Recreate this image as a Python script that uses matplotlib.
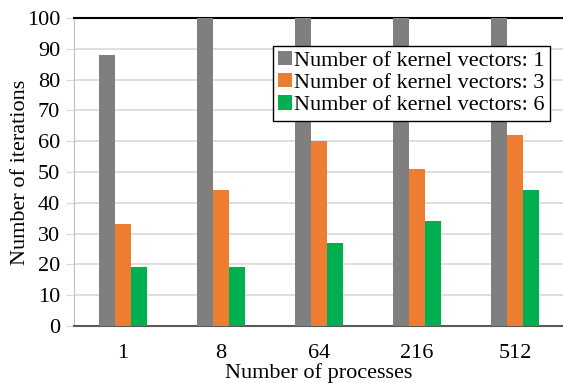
import numpy as np
import matplotlib.pyplot as plt

plt.rcParams['font.family'] = ['Liberation Serif', 'DejaVu Serif']

processes = ['1', '8', '64', '216', '512']
iters_k1 = [88, 100, 100, 100, 100]
iters_k3 = [33, 44, 60, 51, 62]
iters_k6 = [19, 19, 27, 34, 44]

colors = ['#7f7f7f', '#ed7d31', '#00b050']
labels = ['Number of kernel vectors: 1',
          'Number of kernel vectors: 3',
          'Number of kernel vectors: 6']

fig = plt.figure(figsize=(5.63, 3.83), dpi=100)
ax = fig.add_axes([74 / 563, 57 / 383, 490 / 563, 308 / 383])

x = np.arange(len(processes))
w = 0.165
for i, (vals, c, lab) in enumerate(zip([iters_k1, iters_k3, iters_k6], colors, labels)):
    ax.bar(x + (i - 1) * w, vals, width=w, color=c, label=lab, zorder=3)

ax.set_xlim(-0.5, 4.5)
ax.set_ylim(0, 100)
ax.set_yticks(range(0, 101, 10))
ax.set_xticks(x)
ax.set_xticklabels(processes)
ax.yaxis.grid(True, color='#d9d9d9', linewidth=1.2, zorder=0)

ax.spines['right'].set_visible(False)
ax.spines['left'].set_color('#bfbfbf')
ax.spines['bottom'].set_color('#595959')
ax.spines['bottom'].set_linewidth(1.5)
ax.spines['top'].set_color('black')
ax.spines['top'].set_linewidth(1.5)
ax.tick_params(axis='y', length=6, color='#d9d9d9', labelsize=16, pad=4)
ax.tick_params(axis='x', length=0, labelsize=16, pad=13)

ax.set_xlabel('Number of processes', fontsize=16, labelpad=0)
ax.set_ylabel('Number of iterations', fontsize=16, labelpad=-2)

leg = ax.legend(loc='upper right', bbox_to_anchor=(476 / 490, 0.91), fontsize=16,
                frameon=True, fancybox=False, edgecolor='black', framealpha=1,
                handlelength=0.6, handleheight=0.6, handletextpad=0.1,
                labelspacing=0.1, borderpad=0.25, borderaxespad=0)
leg.get_frame().set_linewidth(1.0)

fig.savefig('out.png', dpi=100)
